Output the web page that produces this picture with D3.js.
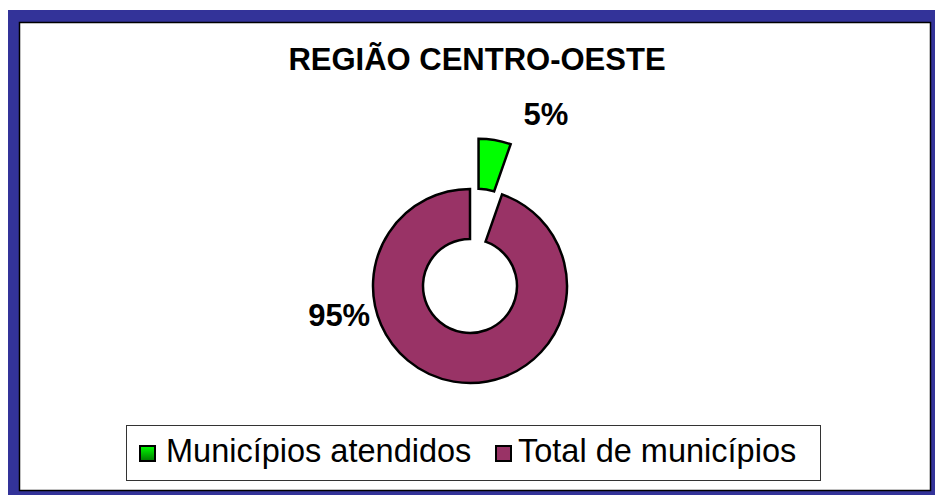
<!DOCTYPE html>
<html>
<head>
<meta charset="utf-8">
<script src="https://cdn.jsdelivr.net/npm/d3@7.9.0/dist/d3.min.js"></script>
<style>
  body { margin: 0; background: #fff; }
  svg { display: block; font-family: Arial, "Liberation Sans", sans-serif; }
</style>
</head>
<body>
<svg id="chart" width="935" height="495"></svg>
<script>
// chart data
const title = 'REGIÃO CENTRO-OESTE';
const categories = ['Municípios atendidos', 'Total de municípios'];
const values = [25, 441];
const colors = ['url(#greenGrad)', '#993366'];
const swatchColors = ['url(#greenSwatch)', '#993366'];

const svg = d3.select('#chart');

/* gradients */
const defs = svg.append('defs');
const g1 = defs.append('linearGradient').attr('id', 'greenGrad')
  .attr('gradientUnits', 'userSpaceOnUse')
  .attr('x1', 0).attr('y1', 140).attr('x2', 0).attr('y2', 190);
g1.append('stop').attr('offset', '0%').attr('stop-color', '#00ff00');
g1.append('stop').attr('offset', '100%').attr('stop-color', '#006e00');
const g2 = defs.append('linearGradient').attr('id', 'greenSwatch')
  .attr('x1', 0).attr('y1', 0).attr('x2', 0).attr('y2', 1);
g2.append('stop').attr('offset', '0%').attr('stop-color', '#00ff00');
g2.append('stop').attr('offset', '100%').attr('stop-color', '#007800');

/* frame */
svg.append('rect').attr('x', 8).attr('y', 10).attr('width', 927).attr('height', 485)
  .attr('fill', '#333399');
svg.append('rect').attr('x', 19.5).attr('y', 22.5).attr('width', 911).attr('height', 468)
  .attr('fill', '#fff').attr('stroke', '#000').attr('stroke-width', 1.5);

svg.append('text')
  .attr('x', 477).attr('y', 70)
  .attr('text-anchor', 'middle')
  .attr('font-size', 31).attr('font-weight', 'bold')
  .text(title);

/* donut */
const cx = 470, cy = 286;
const outerR = 97, innerR = 47, explode = 51;

const pie = d3.pie().sort(null).value(d => d);
const arcData = pie(values);
const arc = d3.arc().innerRadius(innerR).outerRadius(outerR);

const chart = svg.append('g').attr('transform', `translate(${cx},${cy})`);

chart.selectAll('path')
  .data(arcData)
  .enter()
  .append('path')
  .attr('d', arc)
  .attr('transform', (d, i) => {
    if (i !== 0) return null;
    const mid = (d.startAngle + d.endAngle) / 2;
    return `translate(${explode * Math.sin(mid)},${-explode * Math.cos(mid)})`;
  })
  .attr('fill', (d, i) => colors[i])
  .attr('stroke', '#000')
  .attr('stroke-width', 2.5)
  .attr('stroke-linejoin', 'miter');

// percent labels
const total = d3.sum(values);
const labelPlace = [
  { angle: 23.8, r: 188, anchor: 'middle', dy: 11 },
  { angle: 257.5, r: 134, anchor: 'end', dy: 11 }
];
chart.selectAll('text.pct')
  .data(arcData)
  .enter()
  .append('text')
  .attr('class', 'pct')
  .attr('x', (d, i) => labelPlace[i].r * Math.sin(labelPlace[i].angle * Math.PI / 180) + (i === 1 ? 31 : 0))
  .attr('y', (d, i) => -labelPlace[i].r * Math.cos(labelPlace[i].angle * Math.PI / 180) + labelPlace[i].dy)
  .attr('text-anchor', (d, i) => labelPlace[i].anchor)
  .attr('font-size', 31).attr('font-weight', 'bold')
  .text(d => `${Math.round(d.value / total * 100)}%`);

/* legend */
const legend = svg.append('g');
legend.append('rect').attr('x', 126.5).attr('y', 425.5).attr('width', 694).attr('height', 55)
  .attr('fill', '#fff').attr('stroke', '#333').attr('stroke-width', 1);

const legendX = [140, 496];
const items = legend.selectAll('g.item')
  .data(categories)
  .enter()
  .append('g')
  .attr('class', 'item')
  .attr('transform', (d, i) => `translate(${legendX[i]},446)`);

items.append('rect')
  .attr('x', 0).attr('y', 0).attr('width', 15).attr('height', 15)
  .attr('fill', (d, i) => swatchColors[i])
  .attr('stroke', '#000').attr('stroke-width', 2);

items.append('text')
  .attr('x', (d, i) => i === 0 ? 26 : 22).attr('y', 16)
  .attr('font-size', 32.5)
  .text(d => d);
</script>
</body>
</html>
